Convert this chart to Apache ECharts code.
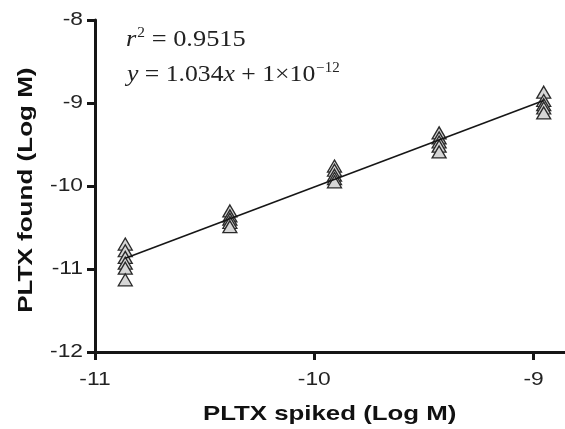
<!DOCTYPE html>
<html>
<head>
<meta charset="utf-8">
<script src="https://cdn.jsdelivr.net/npm/echarts@6/dist/echarts.min.js"></script>
<style>html,body{margin:0;padding:0;background:#fff}#c{width:565px;height:429px}</style>
</head>
<body>
<div id="c"></div>
<script>
// PLTX spiked levels (Log M)
var spikedX = [-10.862, -10.385, -9.908, -9.431, -8.954];
// PLTX found (Log M), replicates per spiked level
var foundY = [
  [-10.70, -10.78, -10.86, -10.93, -10.99, -11.13],
  [-10.30, -10.36, -10.40, -10.44, -10.49],
  [-9.76, -9.81, -9.87, -9.91, -9.95],
  [-9.36, -9.42, -9.47, -9.52, -9.59],
  [-8.87, -8.97, -9.02, -9.06, -9.12]
];
// regression line end points
var fitX = [-10.862, -8.954];
var fitY = [-10.87, -8.97];
var xTicks = [-11, -10, -9];
var yTicks = [-12, -11, -10, -9, -8];
var xTitle = 'PLTX spiked (Log M)';
var yTitle = 'PLTX found (Log M)';

var pts = [];
spikedX.forEach(function (x, i) { foundY[i].forEach(function (y) { pts.push([x, y]); }); });
var fitLine = fitX.map(function (x, i) { return [x, fitY[i]]; });

var chart = echarts.init(document.getElementById('c'), null, {renderer: 'canvas'});
var sans = 'Liberation Sans';
var serif = 'Liberation Serif';
var SX = 1.2; // horizontal stretch of the original figure's lettering
var ink = '#161616';
chart.setOption({
  animation: false,
  backgroundColor: '#fff',
  grid: {left: 95, right: 0, top: 20, bottom: 77, containLabel: false},
  xAxis: {
    type: 'value', min: -11, max: -8.857, interval: 1,
    axisLine: {show: true, onZero: false, lineStyle: {color: ink, width: 3}},
    axisTick: {show: true, length: 8, customValues: xTicks, lineStyle: {color: ink, width: 3}},
    axisLabel: {show: false},
    splitLine: {show: false}
  },
  yAxis: {
    type: 'value', min: -12, max: -8, interval: 1,
    axisLine: {show: true, onZero: false, lineStyle: {color: ink, width: 3}},
    axisTick: {show: true, length: 8, lineStyle: {color: ink, width: 3}},
    axisLabel: {show: false},
    splitLine: {show: false}
  },
  series: [
    {
      type: 'scatter', data: pts, symbol: 'triangle', symbolSize: [14, 12],
      itemStyle: {color: '#d6d6d6', borderColor: '#2a2a2a', borderWidth: 1.3, opacity: 1},
      z: 2
    },
    {
      type: 'line', data: fitLine, symbol: 'none',
      lineStyle: {color: ink, width: 1.6}, z: 3
    }
  ]
});

var g = [];
xTicks.forEach(function (v) {
  var p = chart.convertToPixel({gridIndex: 0}, [v, -12]);
  g.push({type: 'text', x: p[0], y: p[1] + 28, scaleX: SX,
    style: {text: String(v), fontFamily: sans, fontSize: 19, fill: '#222', align: 'center', verticalAlign: 'middle'}});
});
yTicks.forEach(function (v) {
  var p = chart.convertToPixel({gridIndex: 0}, [-11, v]);
  g.push({type: 'text', x: p[0] - 12, y: p[1], scaleX: SX,
    style: {text: String(v), fontFamily: sans, fontSize: 19, fill: '#222', align: 'right', verticalAlign: 'middle'}});
});
var xmid = chart.convertToPixel({gridIndex: 0}, [-9.93, -12]);
g.push({type: 'text', x: xmid[0], y: 414, scaleX: 1.23,
  style: {text: xTitle, fontFamily: sans, fontWeight: 'bold', fontSize: 21, fill: '#111', align: 'center', verticalAlign: 'middle'}});
var ymid = chart.convertToPixel({gridIndex: 0}, [-11, -10.05]);
g.push({type: 'text', x: 26, y: ymid[1], rotation: Math.PI / 2, scaleX: 1.24,
  style: {text: yTitle, fontFamily: sans, fontWeight: 'bold', fontSize: 21, fill: '#111', align: 'center', verticalAlign: 'middle'}});

var rich = {
  i: {fontFamily: serif, fontStyle: 'italic', fontSize: 24, fill: '#222', lineHeight: 28},
  s: {fontFamily: serif, fontSize: 14, fill: '#222', verticalAlign: 'top', lineHeight: 28, padding: [0, 0, 10, 1]},
  n: {fontFamily: serif, fontSize: 24, fill: '#222', lineHeight: 28}
};
g.push({type: 'text', x: 126, y: 26, scaleX: 1.1,
  style: {text: '{i|r}{s|2}{n| = 0.9515}', rich: rich}});
g.push({type: 'text', x: 127, y: 61, scaleX: 1.07,
  style: {text: '{i|y}{n| = 1.034}{i|x}{n| + 1\u00d710}{s|\u221212}', rich: rich}});

chart.setOption({graphic: g});
</script>
</body>
</html>
